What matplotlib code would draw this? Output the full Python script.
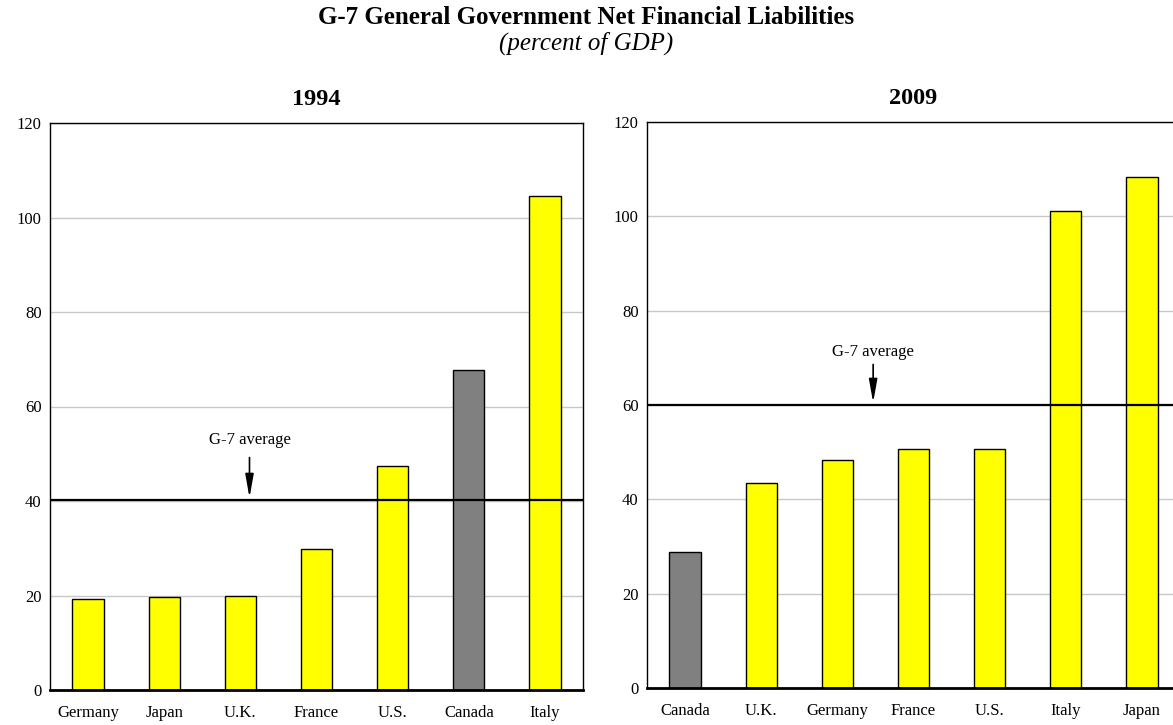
import matplotlib
matplotlib.use("Agg")
import matplotlib.pyplot as plt

plt.rcParams["font.family"] = ["Liberation Serif", "DejaVu Serif"]

# 1994 net financial liabilities, percent of GDP
countries_1994 = ["Germany", "Japan", "U.K.", "France", "U.S.", "Canada", "Italy"]
values_1994 = [19.3, 19.6, 19.8, 29.8, 47.5, 67.8, 104.6]
average_1994 = 40.2

# 2009 net financial liabilities, percent of GDP
countries_2009 = ["Canada", "U.K.", "Germany", "France", "U.S.", "Italy", "Japan"]
values_2009 = [28.9, 43.5, 48.4, 50.6, 50.6, 101.1, 108.4]
average_2009 = 60.0

yticks = [0, 20, 40, 60, 80, 100, 120]

YELLOW = "#ffff00"
GREY = "#808080"


def draw_panel(ax, year, countries, values, average, label_xy, arrow_start):
    colors = [GREY if c == "Canada" else YELLOW for c in countries]
    x = range(len(countries))
    ax.bar(x, values, width=0.41, color=colors, edgecolor="black",
           linewidth=1.0, zorder=2)
    ax.axhline(average, color="black", linewidth=1.6, zorder=3)

    ax.set_xlim(-0.5, 6.5)
    ax.set_ylim(0, 120)
    ax.set_yticks(yticks)
    ax.set_xticks(list(x))
    ax.set_xticklabels(countries)
    ax.tick_params(axis="both", length=0, labelsize=12)
    ax.tick_params(axis="x", pad=11)
    ax.tick_params(axis="y", pad=6)
    ax.yaxis.grid(True, color="#c8c8c8", linewidth=1.0, zorder=0)
    ax.set_axisbelow(True)

    for side in ["left", "top", "right"]:
        ax.spines[side].set_linewidth(1.0)
        ax.spines[side].set_color("black")
    ax.spines["bottom"].set_linewidth(2.0)

    ax.set_title(year, fontsize=17.5, fontweight="bold", pad=13)

    # arrow pointing down onto the average line
    ax.annotate("", xy=(arrow_start[0], average + 0.5), xytext=arrow_start,
                arrowprops=dict(arrowstyle="-|>,head_length=1.4,head_width=0.25",
                                color="black", linewidth=1.2,
                                shrinkA=0, shrinkB=0), zorder=4)
    ax.text(label_xy[0], label_xy[1], "G-7 average", ha="center",
            va="center", fontsize=12)


fig = plt.figure(figsize=(11.73, 7.25), dpi=100)
ax_left = fig.add_axes([50 / 1173, 35 / 725, 533 / 1173, 567 / 725])
ax_right = fig.add_axes([647 / 1173, 37 / 725, 533 / 1173, 566 / 725])

draw_panel(ax_left, "1994", countries_1994, values_1994, average_1994,
           (2.12, 52.9), (2.12, 49.2))
draw_panel(ax_right, "2009", countries_2009, values_2009, average_2009,
           (2.47, 71.2), (2.47, 68.6))

fig.text(0.5, 1 - 18 / 725, "G-7 General Government Net Financial Liabilities",
         ha="center", va="center", fontsize=18, fontweight="bold")
fig.text(0.5, 1 - 43 / 725, "(percent of GDP)", ha="center", va="center",
         fontsize=18, style="italic")

fig.savefig("out.png", dpi=100)
